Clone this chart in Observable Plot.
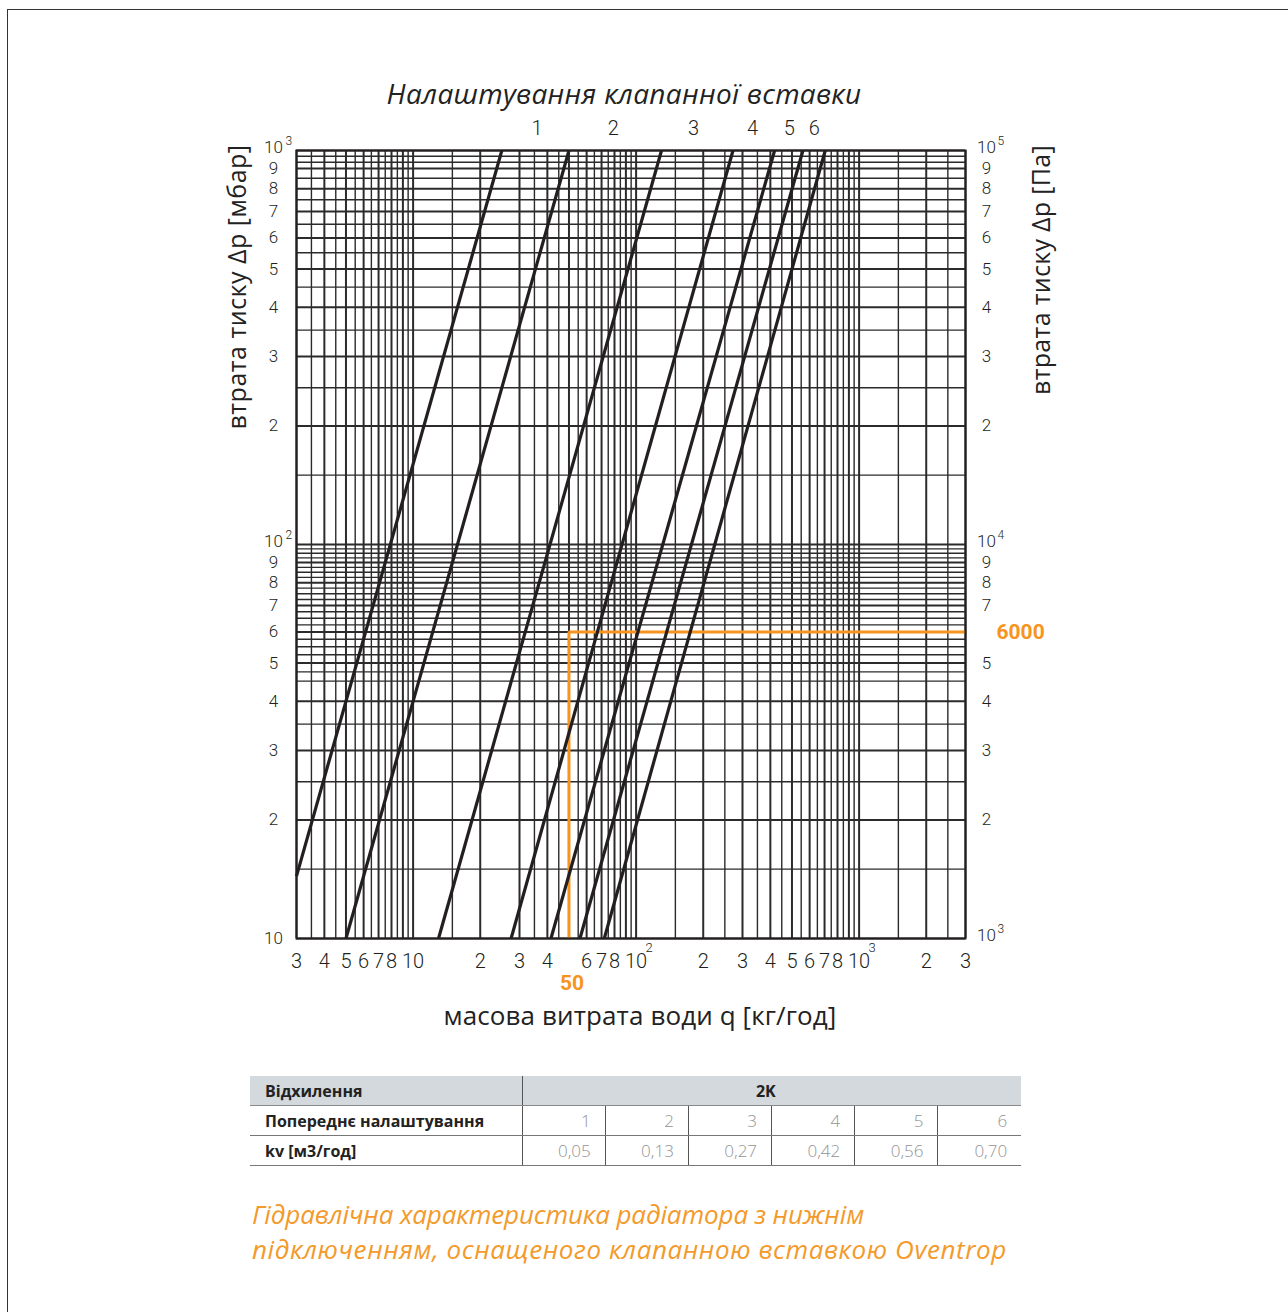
<!DOCTYPE html>
<html>
<head>
<meta charset="utf-8">
<script src="https://cdn.jsdelivr.net/npm/d3@7"></script>
<script src="https://cdn.jsdelivr.net/npm/@observablehq/plot@0.6"></script>
<style>
  html, body { margin: 0; padding: 0; background: #fff; overflow: hidden; }
  body { width: 1288px; height: 1312px; position: relative; font-family: "Open Sans", "DejaVu Sans", sans-serif; }
  .frame { position: absolute; left: 7px; top: 9px; width: 1400px; height: 1400px; border: 1.5px solid #333; box-sizing: border-box; }
  #chart { position: absolute; left: 0; top: 0; }
  .abs { position: absolute; white-space: nowrap; }
  .title { left: 624px; top: 93px; transform: translate(-50%, -50%); font-style: italic; font-size: 28px; color: #222; }
  .ylab { font-size: 25px; color: #222; transform: translate(-50%, -50%) rotate(-90deg); }
  .xlab { left: 640px; top: 1015px; transform: translate(-50%, -50%); font-size: 26px; color: #222; }
  table.t { position: absolute; left: 250px; top: 1076px; width: 771px; border-collapse: collapse; font-size: 16px; table-layout: fixed; }
  table.t td { height: 29px; padding: 0 6px 0 15px; border-bottom: 1.5px solid #777; }
  table.t td.lab { font-weight: bold; color: #222; border-right: 1.5px solid #555; }
  table.t td.v { text-align: right; color: #939393; font-weight: 300; border-right: 1.5px solid #555; padding-right: 14px; font-size: 17px; }
  table.t td.v:last-child { border-right: none; }
  table.t tr.h td { background: #d3d9dc; border-bottom: 1.5px solid #888; }
  table.t tr.h td.hv { text-align: center; font-weight: bold; color: #222; padding: 0 12px 0 0; }
  .cap { left: 252px; font-style: italic; font-size: 26px; color: #f39a2b; }
</style>
</head>
<body>
<div class="frame"></div>
<div id="chart"></div>
<div class="abs title" data-w="475">Налаштування клапанної вставки</div>
<div class="abs ylab" data-w="285" style="left:236px; top:287px;">втрата тиску Δp [мбар]</div>
<div class="abs ylab" data-w="250" style="left:1040px; top:270px;">втрата тиску Δp [Па]</div>
<div class="abs xlab" data-w="393">масова витрата води q [кг/год]</div>
<div id="tbl"></div>
<div class="abs cap" data-w="612" style="top:1196px;">Гідравлічна характеристика радіатора з нижнім</div>
<div class="abs cap" data-w="755" style="top:1231px;">підключенням, оснащеного клапанною вставкою Oventrop</div>
<script>
// ---- data ----
const settings = ["1", "2", "3", "4", "5", "6"];
const kvValues = ["0,05", "0,13", "0,27", "0,42", "0,56", "0,70"];
// curve end points (q in kg/h, dp in mbar)
const curveQLow   = [3,    5,  13, 27.5, 41.5, 56, 72];
const curveDpLow  = [14.4, 10, 10, 10,   10,   10, 10];
const curveQHigh  = [25,   50, 130, 272, 418, 560, 705];
const curveDpHigh = [1000, 1000, 1000, 1000, 1000, 1000, 1000];
// setting labels above the chart (q position)
const settingLabelQ = [36, 79, 181, 333, 487, 630];
// x tick labels
const xTickValues = [3, 4, 5, 6, 7, 8, 10, 20, 30, 40, 60, 70, 80, 100, 200, 300, 400, 500, 600, 700, 800, 1000, 2000, 3000];
const xTickLabels = ["3", "4", "5", "6", "7", "8", "10", "2", "3", "4", "6", "7", "8", "10", "2", "3", "4", "5", "6", "7", "8", "10", "2", "3"];
const xExpValues = [100, 1000];
const xExpLabels = ["2", "3"];
// left y tick labels (mbar)
const yLeftValues = [10, 20, 30, 40, 50, 60, 70, 80, 90, 100, 200, 300, 400, 500, 600, 700, 800, 900, 1000];
const yLeftLabels = ["10", "2", "3", "4", "5", "6", "7", "8", "9", "10", "2", "3", "4", "5", "6", "7", "8", "9", "10"];
const yLeftExpValues = [100, 1000];
const yLeftExpLabels = ["2", "3"];
// right y tick labels (Pa)
const yRightValues = [10, 20, 30, 40, 50, 70, 80, 90, 100, 200, 300, 400, 500, 600, 700, 800, 900, 1000];
const yRightLabels = ["10", "2", "3", "4", "5", "7", "8", "9", "10", "2", "3", "4", "5", "6", "7", "8", "9", "10"];
const yRightExpValues = [10, 100, 1000];
const yRightExpLabels = ["3", "4", "5"];
// highlighted example
const exampleQ = [50];
const exampleDp = [60];
const exampleQLabel = ["50"];
const exampleDpLabel = ["6000"];

// grid lines
const xGrid = [...d3.range(3, 10, 0.5), 10, 15, 20, ...d3.range(30, 100, 5), ...d3.range(100, 1000, 50), 1000, 1500, 2000, 2500, 3000];
const yGrid = [10, 15, 20, 25, 30, 35, 40, ...d3.range(45, 100, 2.5), ...d3.range(100, 900, 50), 900, 933.3, 966.7, 1000];
const isMajor = v => { const e = Math.pow(10, Math.floor(Math.log10(v) + 1e-9)); const m = v / e; return Math.abs(m - Math.round(m)) < 1e-6; };

const curves = curveQLow.map((q, i) => ({q1: q, d1: curveDpLow[i], q2: curveQHigh[i], d2: curveDpHigh[i]}));
const xTicks = xTickValues.map((v, i) => ({v, t: xTickLabels[i]}));
const xExp = xExpValues.map((v, i) => ({v, t: xExpLabels[i]}));
const yL = yLeftValues.map((v, i) => ({v, t: yLeftLabels[i]}));
const yLE = yLeftExpValues.map((v, i) => ({v, t: yLeftExpLabels[i]}));
const yR = yRightValues.map((v, i) => ({v, t: yRightLabels[i]}));
const yRE = yRightExpValues.map((v, i) => ({v, t: yRightExpLabels[i]}));
const setLab = settingLabelQ.map((v, i) => ({v, t: settings[i]}));
const isTen = d => d.t === "10" && d.v !== 10;

const INK = "#231f20";
const ORANGE = "#f7941d";
const TF = "Roboto, 'Open Sans', sans-serif";
const T = {lineAnchor: "middle", fontWeight: 300, fill: INK};
const YF = 17;

const plot = Plot.plot({
  width: 1288,
  height: 1050,
  marginLeft: 296,
  marginRight: 323,
  marginTop: 150,
  marginBottom: 112,
  x: {type: "log", domain: [3, 3000], axis: null},
  y: {type: "log", domain: [10, 1000], axis: null},
  style: {background: "transparent", fontFamily: TF},
  marks: [
    Plot.ruleX(xGrid, {x: d => d, stroke: "#2b2b2b", strokeWidth: d => isMajor(d) ? 2 : 1.4}),
    Plot.ruleY(yGrid, {y: d => d, stroke: "#2b2b2b", strokeWidth: d => isMajor(d) ? 2 : 1.4}),
    Plot.ruleX(exampleQ, {x: d => d, y1: 10, y2: exampleDp[0], stroke: ORANGE, strokeWidth: 3}),
    Plot.ruleY(exampleDp, {y: d => d, x1: exampleQ[0], x2: 3000, stroke: ORANGE, strokeWidth: 3}),
    Plot.link(curves, {x1: "q1", y1: "d1", x2: "q2", y2: "d2", stroke: INK, strokeWidth: 3.2}),
    Plot.frame({stroke: INK, strokeWidth: 2}),
    // x tick labels
    Plot.text(xTicks, {...T, x: "v", text: "t", frameAnchor: "bottom", dy: 23, fontSize: 20}),
    Plot.text(xExp, {...T, x: "v", text: "t", frameAnchor: "bottom", dx: 13, dy: 9, fontSize: 13}),
    // left labels
    Plot.text(yL.filter(d => !isTen(d)), {...T, y: "v", text: "t", frameAnchor: "left", dx: -23, textAnchor: "middle", fontSize: YF}),
    Plot.text(yL.filter(isTen), {...T, y: "v", text: "t", frameAnchor: "left", dx: -23, dy: -3, textAnchor: "middle", fontSize: YF}),
    Plot.text(yLE, {...T, y: "v", text: "t", frameAnchor: "left", dx: -11, dy: -9, textAnchor: "start", fontSize: 12}),
    // right labels
    Plot.text(yR.filter(d => d.t !== "10"), {...T, y: "v", text: "t", frameAnchor: "right", dx: 21, textAnchor: "middle", fontSize: YF}),
    Plot.text(yR.filter(d => d.t === "10"), {...T, y: "v", text: "t", frameAnchor: "right", dx: 21, dy: -3, textAnchor: "middle", fontSize: YF}),
    Plot.text(yRE, {...T, y: "v", text: "t", frameAnchor: "right", dx: 32, dy: -9, textAnchor: "start", fontSize: 12}),
    // setting labels
    Plot.text(setLab, {...T, x: "v", text: "t", frameAnchor: "top", dy: -22, fontSize: 20}),
    // orange labels
    Plot.text(exampleDp, {y: d => d, text: () => exampleDpLabel[0], lineAnchor: "middle", frameAnchor: "right", dx: 31, textAnchor: "start", fontSize: 21, fontWeight: "bold", fill: ORANGE}),
    Plot.text(exampleQ, {x: d => d, text: () => exampleQLabel[0], lineAnchor: "middle", frameAnchor: "bottom", dx: 3, dy: 45, fontSize: 21, fontWeight: "bold", fill: ORANGE})
  ]
});
document.getElementById("chart").appendChild(plot);

// table
const tbl = document.createElement("table");
tbl.className = "t";
let html = `<colgroup><col style="width:272px">${settings.map(() => `<col style="width:83.2px">`).join("")}</colgroup>`;
html += `<tr class="h"><td class="lab">Відхилення</td><td class="hv" colspan="6">2K</td></tr>`;
html += `<tr><td class="lab">Попереднє налаштування</td>${settings.map(s => `<td class="v">${s}</td>`).join("")}</tr>`;
html += `<tr><td class="lab">kv [м3/год]</td>${kvValues.map(s => `<td class="v">${s}</td>`).join("")}</tr>`;
tbl.innerHTML = html;
document.getElementById("tbl").appendChild(tbl);

// fit text widths to the reference by letter spacing
document.querySelectorAll("[data-w]").forEach(el => {
  const target = +el.dataset.w;
  const w = el.getBoundingClientRect();
  const actual = el.classList.contains("ylab") ? w.height : w.width;
  const n = el.textContent.length;
  el.style.letterSpacing = ((target - actual) / n).toFixed(2) + "px";
});
</script>
</body>
</html>
